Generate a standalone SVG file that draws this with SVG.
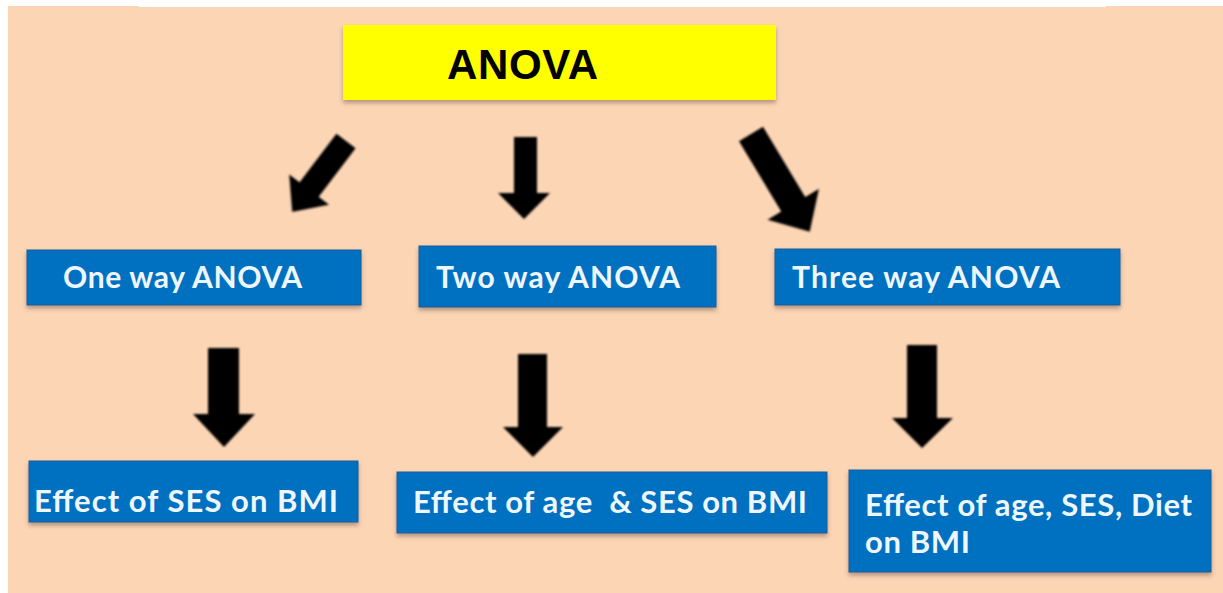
<svg xmlns="http://www.w3.org/2000/svg" width="1223" height="593" viewBox="0 0 1223 593">
  <defs>
    <filter id="sh" x="-5%" y="-20%" width="110%" height="150%">
      <feDropShadow dx="0" dy="3" stdDeviation="2" flood-color="#5a4a3a" flood-opacity="0.45"/>
    </filter>
    <filter id="ash" x="-30%" y="-30%" width="160%" height="160%">
      <feGaussianBlur stdDeviation="0.8"/>
    </filter>
  </defs>
  <style>
    .bg { fill: #FCD5B5; }
    .yel { fill: #FFFF00; filter: url(#sh); }
    .blue { fill: #0070C0; stroke: #1a5c9a; stroke-width: 1; filter: url(#sh); }
    .title { font-family: "Liberation Sans", Arial, sans-serif; font-weight: bold; font-size: 42px; fill: #000; }
    .lbl { font-family: Lato, "Open Sans", sans-serif; font-weight: bold; fill: #EEF7FF; }
    .top { font-size: 30px; }
    .bot { font-size: 31px; }
    .arr { fill: #050505; filter: url(#ash); }
  </style>
  <rect x="0" y="0" width="1223" height="593" fill="#FFFFFF"/>
  <rect class="bg" x="8" y="7" width="1215" height="586"/>
  <rect class="bg" x="8" y="6" width="131" height="2"/>
  <rect class="bg" x="1106" y="6" width="117" height="2"/>

  <g id="anova">
    <rect class="yel" x="343" y="25" width="433" height="75"/>
    <text class="title" x="447" y="79" textLength="151">ANOVA</text>
  </g>

  <g id="one-way">
    <rect class="blue" x="27" y="250" width="334" height="55"/>
    <text class="lbl top" x="63" y="288" textLength="239">One way ANOVA</text>
  </g>
  <g id="two-way">
    <rect class="blue" x="419" y="246" width="297" height="61"/>
    <text class="lbl top" x="436" y="288" textLength="244">Two way ANOVA</text>
  </g>
  <g id="three-way">
    <rect class="blue" x="775" y="249" width="345" height="56"/>
    <text class="lbl top" x="792" y="288" textLength="268">Three way ANOVA</text>
  </g>

  <g id="effect-ses">
    <rect class="blue" x="29" y="461" width="329" height="61"/>
    <text class="lbl bot" x="34" y="512" textLength="304">Effect of SES on BMI</text>
  </g>
  <g id="effect-age-ses">
    <rect class="blue" x="397" y="472" width="430" height="61"/>
    <text class="lbl bot" x="413" y="513" textLength="394" xml:space="preserve">Effect of age  &amp; SES on BMI</text>
  </g>
  <g id="effect-age-ses-diet">
    <rect class="blue" x="849" y="470" width="362" height="102"/>
    <text class="lbl bot" x="865" y="516" textLength="327">Effect of age, SES, Diet</text>
    <text class="lbl bot" x="865" y="553" textLength="105">on BMI</text>
  </g>

  <g id="connectors">
    <path class="arr" transform="translate(346,141) rotate(37.2)" d="M-12,0 L12,0 L12,61 L25,61 L0,89 L-25,61 L-12,61 Z"/>
    <path class="arr" d="M514,137 L537,137 L537,193 L550,193 L524,219 L498,193 L514,193 Z"/>
    <path class="arr" transform="translate(751,134) rotate(-31)" d="M-14,0 L14,0 L14,82 L30,82 L0,114 L-30,82 L-14,82 Z"/>
    <path class="arr" d="M208,348 L239,348 L239,414 L255,414 L224,447 L193,414 L208,414 Z"/>
    <path class="arr" d="M518,354 L547,354 L547,427 L563,427 L533,457 L503,427 L518,427 Z"/>
    <path class="arr" d="M907,345 L937,345 L937,418 L953,418 L922,448 L892,418 L907,418 Z"/>
  </g>
</svg>
